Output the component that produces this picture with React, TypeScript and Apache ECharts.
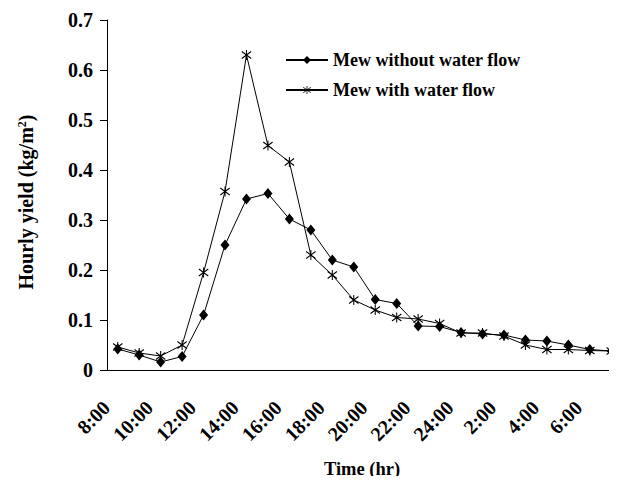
import React, { useEffect, useRef } from "react";
import * as echarts from "echarts";

const categories = [
  "8:00", "9:00", "10:00", "11:00", "12:00", "13:00", "14:00", "15:00",
  "16:00", "17:00", "18:00", "19:00", "20:00", "21:00", "22:00", "23:00",
  "24:00", "1:00", "2:00", "3:00", "4:00", "5:00", "6:00", "7:00",
];

const withoutFlow = [
  0.042, 0.030, 0.016, 0.027, 0.110, 0.250, 0.342, 0.353,
  0.302, 0.280, 0.220, 0.206, 0.141, 0.133, 0.088, 0.087,
  0.075, 0.072, 0.070, 0.060, 0.058, 0.050, 0.041, 0.038,
];

const withFlow = [
  0.046, 0.034, 0.028, 0.050, 0.195, 0.357, 0.630, 0.449,
  0.416, 0.230, 0.190, 0.140, 0.120, 0.105, 0.102, 0.093,
  0.074, 0.074, 0.068, 0.050, 0.041, 0.041, 0.039, 0.038,
];

const yTicks = { min: 0, max: 0.7, interval: 0.1 };

const seriesNames = ["Mew without water flow", "Mew with water flow"];
const xTitle = "Time (hr)";

const FONT = "'Liberation Serif', 'Times New Roman', serif";

const asterisk =
  "path://M9,0L11,0L11,20L9,20Z M1.61,2.21L19.61,16.21L18.39,17.79L0.39,3.79Z M19.61,3.79L1.61,17.79L0.39,16.21L18.39,2.21Z";

export default function App() {
  const ref = useRef<HTMLDivElement>(null);
  useEffect(() => {
    if (!ref.current) return;
    const chart = echarts.init(ref.current, undefined, { renderer: "svg" });
    chart.setOption({
      animation: false,
      backgroundColor: "#fff",
      textStyle: { fontFamily: FONT, color: "#000" },
      grid: { left: 107, top: 20, width: 515, height: 350, outerBoundsMode: "none" },
      legend: {
        orient: "vertical",
        left: 280,
        top: 46,
        itemWidth: 42,
        itemHeight: 10,
        itemGap: 12,
        textStyle: { fontFamily: FONT, fontWeight: "bold", fontSize: 18, color: "#000" },
        data: seriesNames,
      },
      xAxis: {
        type: "category",
        data: categories,
        boundaryGap: true,
        axisLine: { lineStyle: { color: "#000", width: 1 } },
        axisTick: { interval: 0, length: 5, lineStyle: { color: "#000" } },
        axisLabel: {
          interval: 1,
          rotate: 45,
          margin: 23,
          padding: [0, 16, 0, 0],
          fontFamily: FONT,
          fontWeight: "bold",
          fontSize: 20,
          color: "#000",
        },
        splitLine: { show: false },
      },
      yAxis: {
        type: "value",
        min: yTicks.min,
        max: yTicks.max,
        interval: yTicks.interval,
        axisLine: { show: true, lineStyle: { color: "#000", width: 1 } },
        axisTick: { show: true, length: 7, lineStyle: { color: "#000" } },
        axisLabel: {
          margin: 14,
          fontFamily: FONT,
          fontWeight: "bold",
          fontSize: 20,
          color: "#000",
          formatter: (v: number) => (v === 0 ? "0" : v.toFixed(1)),
        },
        splitLine: { show: false },
      },
      graphic: [
        {
          type: "text",
          x: 362,
          y: 469,
          style: {
            text: xTitle,
            align: "center",
            verticalAlign: "middle",
            fontFamily: FONT,
            fontWeight: "bold",
            fontSize: 18.5,
            fill: "#000",
          },
        },
        {
          type: "text",
          x: 26,
          y: 202,
          rotation: Math.PI / 2,
          style: {
            text: "{a|Hourly yield (kg/m}{s|2}{a|)}",
            align: "center",
            verticalAlign: "middle",
            rich: {
              a: { fontFamily: FONT, fontWeight: "bold", fontSize: 20, fill: "#000" },
              s: { fontFamily: FONT, fontWeight: "bold", fontSize: 12, fill: "#000", verticalAlign: "top", padding: [0, 0, 9, 0] },
            },
          },
        },
      ],
      series: [
        {
          name: seriesNames[0],
          type: "line",
          data: withoutFlow,
          symbol: "diamond",
          symbolSize: [9, 11],
          lineStyle: { color: "#000", width: 1 },
          itemStyle: { color: "#000" },
        },
        {
          name: seriesNames[1],
          type: "line",
          data: withFlow,
          symbol: asterisk,
          symbolSize: 10,
          lineStyle: { color: "#000", width: 1 },
          itemStyle: { color: "#000" },
        },
      ],
    });
    return () => chart.dispose();
  }, []);
  return <div ref={ref} style={{ width: 617, height: 484, margin: -8 }} />;
}
